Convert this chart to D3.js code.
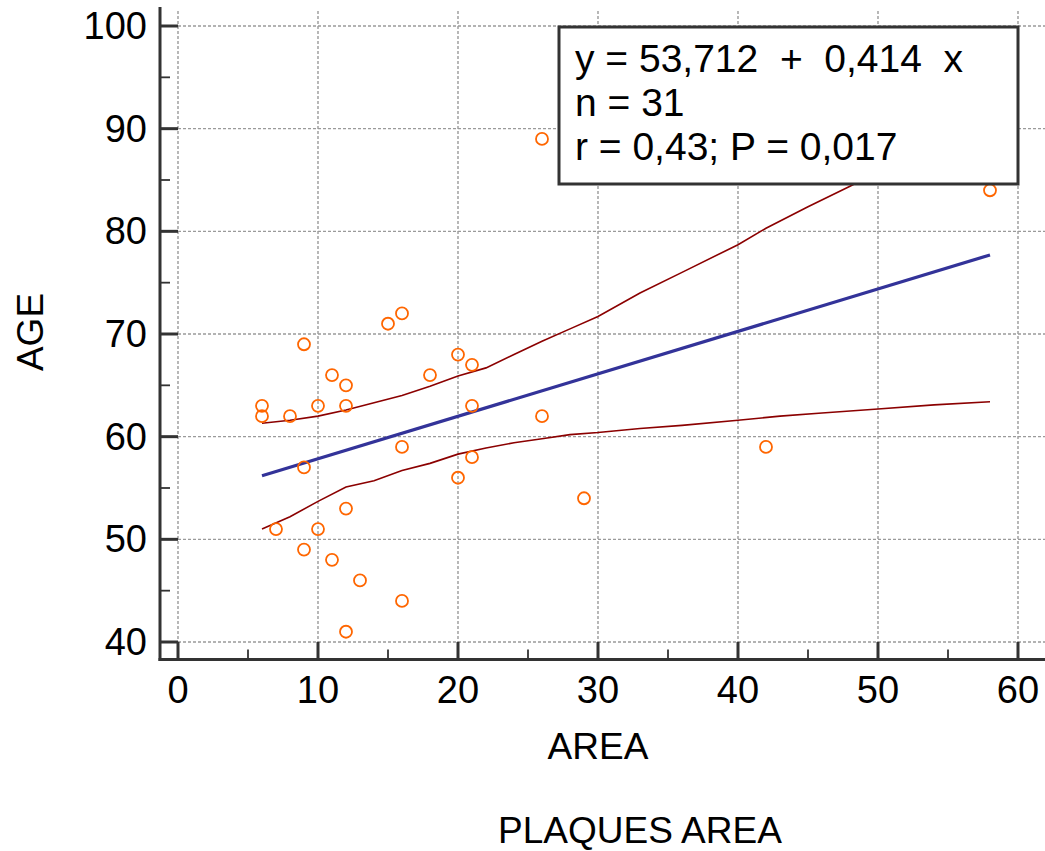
<!DOCTYPE html>
<html>
<head>
<meta charset="utf-8">
<script src="https://cdn.jsdelivr.net/npm/d3@7"></script>
<style>
  html, body { margin: 0; padding: 0; background: #fff; }
  svg { display: block; }
  text { font-family: "Liberation Sans", Arial, sans-serif; fill: #000; }
</style>
</head>
<body>
<svg id="chart" width="1045" height="851"></svg>
<script>
// ---- data ----
const areaX = [6,6,8,9,10,11,12,12,15,16,20,21,18,21,16,9,21,20,12,7,10,9,11,13,16,12,26,29,42,26,58];
const ageY  = [63,62,62,69,63,66,65,63,71,72,68,67,66,63,59,57,58,56,53,51,51,49,48,46,44,41,62,54,59,89,84];

const fitX = [6, 58];
const fitY = [56.2, 77.7];

const upperX = [6,8,10,12,14,16,18,20,22,24,26,28,30,33,36,40,42,45,48,52,55,58];
const upperY = [61.3,61.6,62.0,62.6,63.3,64.0,64.9,65.9,66.7,68.0,69.3,70.5,71.7,74.0,76.0,78.7,80.3,82.4,84.4,87.2,89.3,91.4];

const lowerX = [6,8,10,12,14,16,18,20,22,24,26,28,30,33,36,40,43,46,50,54,58];
const lowerY = [51.0,52.2,53.7,55.1,55.7,56.7,57.4,58.3,58.9,59.4,59.8,60.2,60.4,60.8,61.1,61.6,62.0,62.3,62.7,63.1,63.4];

const xMajor = [0,10,20,30,40,50,60];
const xMinor = [5,15,25,35,45,55];
const yMajor = [40,50,60,70,80,90,100];
const yMinor = [45,55,65,75,85,95];

const statLines = ["y = 53,712  +  0,414  x", "n = 31", "r = 0,43; P = 0,017"];
const xTitle = "AREA";
const xSubTitle = "PLAQUES AREA";
const yTitle = "AGE";

// ---- layout ----
const svg = d3.select("#chart");
const x = d3.scaleLinear().domain([0, 60]).range([178, 1018]);
const y = d3.scaleLinear().domain([40, 100]).range([642, 26]);
const axisX = 160, axisY = 659.5;
const gridColor = "#9a9a9a", axisColor = "#333";

// gridlines
svg.append("g").selectAll("line").data(xMajor).join("line")
  .attr("x1", d => x(d)).attr("x2", d => x(d))
  .attr("y1", 11).attr("y2", y(40))
  .attr("stroke", gridColor).attr("stroke-width", 1.4).attr("stroke-dasharray", "3,2");
svg.append("g").selectAll("line").data(yMajor).join("line")
  .attr("x1", x(0)).attr("x2", 1045)
  .attr("y1", d => y(d)).attr("y2", d => y(d))
  .attr("stroke", gridColor).attr("stroke-width", 1.4).attr("stroke-dasharray", "3,2");

// confidence bands
const line = d3.line().x(d => x(d[0])).y(d => y(d[1]));
svg.append("path").datum(upperX.map((v, i) => [v, upperY[i]]))
  .attr("d", line).attr("fill", "none").attr("stroke", "#8b0000").attr("stroke-width", 1.6);
svg.append("path").datum(lowerX.map((v, i) => [v, lowerY[i]]))
  .attr("d", line).attr("fill", "none").attr("stroke", "#8b0000").attr("stroke-width", 1.6);

// regression line
svg.append("path").datum(fitX.map((v, i) => [v, fitY[i]]))
  .attr("d", line).attr("fill", "none").attr("stroke", "#333399").attr("stroke-width", 3.2);

// points
svg.append("g").selectAll("circle").data(areaX.map((v, i) => [v, ageY[i]])).join("circle")
  .attr("cx", d => x(d[0])).attr("cy", d => y(d[1])).attr("r", 6)
  .attr("fill", "none").attr("stroke", "#ff6600").attr("stroke-width", 1.8);

// axes
svg.append("line").attr("x1", axisX).attr("x2", axisX).attr("y1", 7).attr("y2", axisY + 1.5)
  .attr("stroke", axisColor).attr("stroke-width", 3);
svg.append("line").attr("x1", axisX - 1.5).attr("x2", 1045).attr("y1", axisY).attr("y2", axisY)
  .attr("stroke", axisColor).attr("stroke-width", 3);

// y ticks
svg.append("g").selectAll("line").data(yMajor).join("line")
  .attr("x1", axisX).attr("x2", x(0)).attr("y1", d => y(d)).attr("y2", d => y(d))
  .attr("stroke", axisColor).attr("stroke-width", 3);
svg.append("g").selectAll("line").data(yMinor).join("line")
  .attr("x1", axisX).attr("x2", axisX + 10).attr("y1", d => y(d)).attr("y2", d => y(d))
  .attr("stroke", axisColor).attr("stroke-width", 1.8);
svg.append("g").selectAll("text").data(yMajor).join("text")
  .attr("x", 147).attr("y", d => y(d)).attr("dy", "0.34em")
  .attr("text-anchor", "end").attr("font-size", 38).text(d => d);

// x ticks
svg.append("g").selectAll("line").data(xMajor).join("line")
  .attr("x1", d => x(d)).attr("x2", d => x(d)).attr("y1", axisY).attr("y2", y(40))
  .attr("stroke", axisColor).attr("stroke-width", 3);
svg.append("g").selectAll("line").data(xMinor).join("line")
  .attr("x1", d => x(d)).attr("x2", d => x(d)).attr("y1", axisY).attr("y2", axisY - 10)
  .attr("stroke", axisColor).attr("stroke-width", 1.8);
svg.append("g").selectAll("text").data(xMajor).join("text")
  .attr("x", d => x(d)).attr("y", 703)
  .attr("text-anchor", "middle").attr("font-size", 38).text(d => d);

// titles
svg.append("text").attr("x", x(30)).attr("y", 759).attr("text-anchor", "middle")
  .attr("font-size", 37).text(xTitle);
svg.append("text").attr("x", 640).attr("y", 843).attr("text-anchor", "middle")
  .attr("font-size", 37).text(xSubTitle);
svg.append("text").attr("transform", "translate(43,332) rotate(-90)")
  .attr("text-anchor", "middle").attr("font-size", 37).text(yTitle);

// stats box
svg.append("rect").attr("x", 559).attr("y", 27).attr("width", 459).attr("height", 157)
  .attr("fill", "#fff").attr("stroke", axisColor).attr("stroke-width", 3);
svg.append("g").selectAll("text").data(statLines).join("text")
  .attr("x", 575).attr("y", (d, i) => 72 + i * 44)
  .attr("font-size", 39).style("white-space", "pre").text(d => d);
</script>
</body>
</html>
